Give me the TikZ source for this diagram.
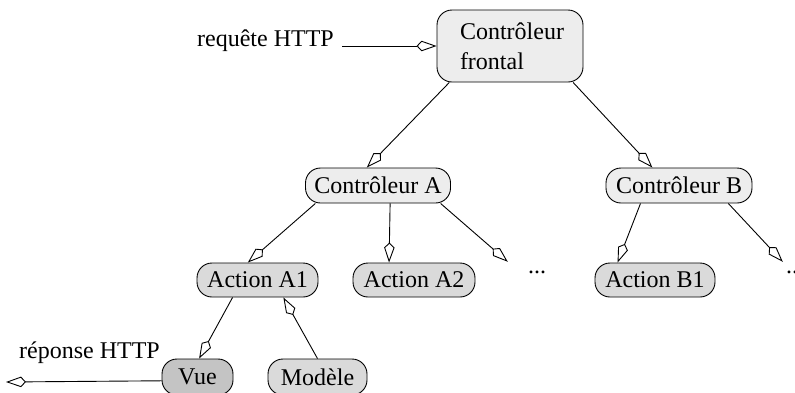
\documentclass[tikz,border=0pt]{standalone}
\usepackage{fontspec}
\setmainfont{Liberation Serif}
\usetikzlibrary{arrows.meta}
\definecolor{ctrlfill}{HTML}{EDEDED}
\definecolor{actfill}{HTML}{DADADA}
\definecolor{viewfill}{HTML}{C4C4C4}
\begin{document}
\begin{tikzpicture}[x=1pt,y=-1pt,
  every node/.style={font=\fontsize{24}{30}\selectfont},
  box/.style={draw, line width=0.9pt, rounded corners=15pt, inner xsep=0pt, inner ysep=0pt, minimum height=35pt},
  ctrl/.style={box, fill=ctrlfill},
  act/.style={box, fill=actfill},
  view/.style={box, fill=viewfill},
  link/.style={draw, line width=0.9pt, -{Kite[open, length=20pt, width=10.5pt, inset=5pt]}},
  txt/.style={inner sep=0pt},
  dots/.style={inner sep=0pt, minimum height=20pt}
]
\useasboundingbox (0,0) rectangle (795,392);
\clip (0,0) rectangle (795,392);

% nodes
\node[ctrl, minimum width=146pt, minimum height=72pt, text width=100pt, inner xsep=23pt, align=left] (frontal) at (510,46) {Contrôleur\\frontal};
\node[ctrl, minimum width=145pt] (CA) at (378,185.5) {Contrôleur A};
\node[ctrl, minimum width=146pt] (CB) at (679,185.5) {Contrôleur B};
\node[act, minimum width=121pt, minimum height=34pt] (A1) at (257.5,280) {Action A1};
\node[act, minimum width=122pt, minimum height=34pt] (A2) at (414,280) {Action A2};
\node[act, minimum width=120pt, minimum height=34pt] (B1) at (655,280) {Action B1};
\node[view, minimum width=71pt, minimum height=36pt] (Vue) at (197.5,377) {Vue};
\node[act, minimum width=99pt, minimum height=36pt] (Mod) at (317.5,377) {Modèle};
\node[dots, minimum width=58pt] (dotsA) at (537,272) {...};
\node[dots, minimum width=24pt] (dotsB) at (795,272) {...};

% labels
\node[txt, anchor=base east] (req) at (334,46) {requête HTTP};
\node[txt, anchor=base west] (rep) at (19,358) {réponse HTTP};
\coordinate (repend) at (6,382);

% connectors
\draw[link] ([xshift=8pt]req.base east) -- (frontal.west);
\draw[link] (frontal.211) -- (CA.122);
\draw[link] (frontal.330) -- (CB.146);
\draw[link] (CA.196) -- (A1.119);
\draw[link] (CA.304) -- (A2.145);
\draw[link] (CA.344) -- (dotsA.north west);
\draw[link] (CB.205) -- (B1.155);
\draw[link] (CB.340) -- (dotsB.north west);
\draw[link] (A1.215) -- (Vue.85);
\draw[link] (Mod.north) -- (A1.326);
\draw[link] (Vue.186) -- (repend);
\end{tikzpicture}
\end{document}
